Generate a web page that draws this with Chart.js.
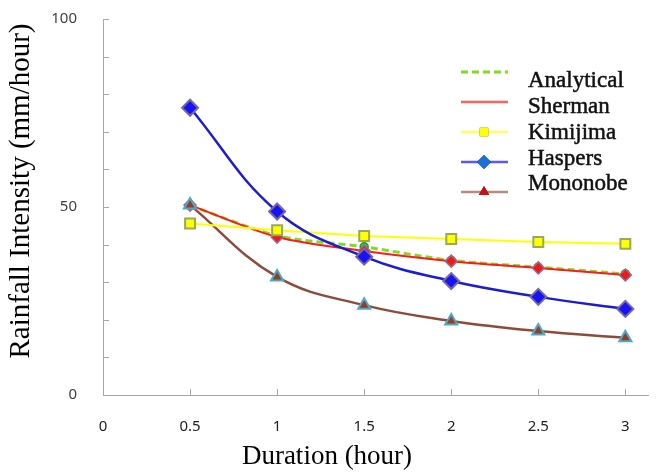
<!DOCTYPE html>
<html>
<head>
<meta charset="utf-8">
<script src="https://cdn.jsdelivr.net/npm/chart.js@4/dist/chart.umd.min.js"></script>
<style>
  html, body { margin: 0; padding: 0; background: #fff; }
  canvas { display: block; }
</style>
</head>
<body>
<canvas id="chartPluie" width="658" height="472"></canvas>
<script>
// durées (heures) sur l'axe X
const durees = [0.5, 1, 1.5, 2, 2.5, 3];

// intensités (mm/hour)
const analytical = [50.4, 42.4, 39.4, 35.8, 34.0, 32.2];
const sherman    = [50.5, 42.0, 38.3, 35.6, 33.8, 31.9];
const kimijima   = [45.6, 43.8, 42.3, 41.5, 40.7, 40.2];
const haspers    = [76.4, 48.8, 36.8, 30.3, 26.1, 22.9];
const mononobe   = [50.5, 31.4, 23.9, 19.7, 17.0, 15.2];

// graduations
const xTicks = [0, 0.5, 1, 1.5, 2, 2.5, 3];
const yLabels = [0, 50, 100];

function points(valeurs) {
    return durees.map((d, i) => ({ x: d, y: valeurs[i] }));
}

// petites graduations tournées vers l'intérieur du graphique
const ticksInterieurs = {
    id: 'ticksInterieurs',
    afterDraw(chart) {
        const ctx = chart.ctx;
        const x = chart.scales.x;
        const y = chart.scales.y;
        ctx.save();
        ctx.strokeStyle = '#a6a6a6';
        ctx.lineWidth = 1;
        ctx.beginPath();
        y.ticks.forEach(t => {
            const py = Math.round(y.getPixelForValue(t.value)) + 0.5;
            ctx.moveTo(x.left, py);
            ctx.lineTo(x.left + 6, py);
        });
        x.ticks.forEach(t => {
            if (t.value === 0) return;
            const px = Math.round(x.getPixelForValue(t.value)) + 0.5;
            ctx.moveTo(px, y.bottom);
            ctx.lineTo(px, y.bottom - 6);
        });
        ctx.stroke();
        ctx.restore();
    }
};

// titres des axes (placés comme sur la figure d'origine)
const titresAxes = {
    id: 'titresAxes',
    afterDraw(chart) {
        const ctx = chart.ctx;
        ctx.save();
        ctx.fillStyle = '#000';
        ctx.textAlign = 'center';
        ctx.textBaseline = 'middle';
        ctx.font = '27px "Liberation Serif"';
        ctx.fillText('Duration (hour)', 327, 457);
        ctx.translate(21, 191);
        ctx.rotate(-Math.PI / 2);
        ctx.font = '29px "Liberation Serif"';
        ctx.fillText('Rainfall Intensity (mm/hour)', 0, 0);
        ctx.restore();
    }
};

// légende dessinée à la main (dans la zone du graphique, en haut à droite)
const legendePerso = {
    id: 'legendePerso',
    afterDraw(chart) {
        const ctx = chart.ctx;
        const ordre = ['Analytical', 'Sherman', 'Kimijima', 'Haspers', 'Mononobe'];
        const ligneY = [72, 102, 132, 162, 192];
        const texteY = [81, 107, 133, 159, 184];
        ctx.save();
        ordre.forEach((nom, i) => {
            const ds = chart.data.datasets.find(d => d.label === nom);
            const yy = ligneY[i];
            ctx.beginPath();
            ctx.strokeStyle = ds.legendLine || ds.borderColor;
            ctx.lineWidth = nom === 'Analytical' ? 3 : 2.5;
            ctx.setLineDash(ds.borderDash || []);
            ctx.moveTo(461, yy);
            ctx.lineTo(508, yy);
            ctx.stroke();
            ctx.setLineDash([]);
            if (ds.legendMarker) {
                Chart.helpers.drawPoint(ctx, {
                    pointStyle: ds.pointStyle,
                    radius: ds.legendMarker,
                    borderWidth: 0,
                    rotation: 0
                }, 484, yy);
                ctx.fillStyle = ds.legendColor;
                ctx.fill();
            }
            ctx.fillStyle = '#111';
            ctx.strokeStyle = '#111';
            ctx.lineWidth = 0.5;
            ctx.font = '23px "Liberation Serif"';
            ctx.textBaseline = 'middle';
            ctx.fillText(nom, 528, texteY[i]);
            ctx.strokeText(nom, 528, texteY[i]);
        });
        ctx.restore();
    }
};

new Chart(document.getElementById('chartPluie'), {
    type: 'line',
    data: {
        datasets: [
            {
                label: 'Analytical',
                data: points(analytical),
                borderColor: '#7fdc1e',
                borderWidth: 3,
                borderDash: [7, 4],
                pointStyle: 'circle',
                pointRadius: 4,
                pointBackgroundColor: '#33cc33',
                pointBorderColor: '#1aa01a',
                pointBorderWidth: 1.5,
                tension: 0.3,
                order: 5
            },
            {
                label: 'Sherman',
                data: points(sherman),
                borderColor: '#ff1a1a',
                borderWidth: 2,
                pointStyle: 'rectRot',
                pointRadius: 6,
                pointBackgroundColor: '#f01818',
                pointBorderColor: '#9a6a88',
                pointBorderWidth: 1.5,
                tension: 0.3,
                legendLine: '#ff6060',
                order: 4
            },
            {
                label: 'Kimijima',
                data: points(kimijima),
                borderColor: '#ffff00',
                borderWidth: 2,
                pointStyle: 'rect',
                pointRadius: 7,
                pointBackgroundColor: '#ffff00',
                pointBorderColor: '#98aa55',
                pointBorderWidth: 2,
                tension: 0,
                legendMarker: 6,
                legendColor: '#ffff00',
                legendLine: '#ffff66',
                order: 2
            },
            {
                label: 'Haspers',
                data: points(haspers),
                borderColor: '#1c1cd0',
                borderWidth: 2.5,
                pointStyle: 'rectRot',
                pointRadius: 8,
                pointBackgroundColor: '#1414f5',
                pointBorderColor: '#7868a0',
                pointBorderWidth: 2,
                tension: 0.4,
                legendMarker: 7,
                legendColor: '#1a6fd8',
                legendLine: '#5a5af0',
                order: 1
            },
            {
                label: 'Mononobe',
                data: points(mononobe),
                borderColor: '#8e4b3a',
                borderWidth: 2.5,
                pointStyle: 'triangle',
                pointRadius: 7,
                pointBackgroundColor: '#9a3c24',
                pointBorderColor: '#4aaac8',
                pointBorderWidth: 2,
                tension: 0.4,
                legendMarker: 6,
                legendColor: '#cc1010',
                legendLine: '#b88a80',
                order: 3
            }
        ]
    },
    options: {
        responsive: false,
        animation: false,
        devicePixelRatio: 1,
        layout: { padding: { top: 19, right: 0, left: 0, bottom: 0 } },
        plugins: {
            legend: { display: false },
            tooltip: { enabled: false }
        },
        scales: {
            x: {
                type: 'linear',
                min: 0,
                max: 3.13,
                afterBuildTicks: s => {
                    s.ticks = xTicks.map(v => ({ value: v }));
                },
                afterFit: s => { s.height = 77; s.paddingRight = 0; s.paddingLeft = 0; },
                grid: { display: false },
                border: { display: true, color: '#a6a6a6', width: 1 },
                ticks: {
                    padding: 15,
                    color: '#202020',
                    font: { family: '"Noto Sans"', size: 15 },
                    maxRotation: 0,
                    autoSkip: false,
                    callback: v => String(v)
                }
            },
            y: {
                min: 0,
                max: 100,
                afterFit: s => { s.width = 103; s.paddingTop = 0; s.paddingBottom = 0; },
                grid: { display: false },
                border: { display: true, color: '#a6a6a6', width: 1 },
                ticks: {
                    stepSize: 10,
                    padding: 18,
                    color: '#404040',
                    font: { family: '"Noto Sans"', size: 15 },
                    autoSkip: false,
                    callback: v => yLabels.includes(v) ? v : ''
                }
            }
        }
    },
    plugins: [ticksInterieurs, titresAxes, legendePerso]
});
</script>
</body>
</html>
